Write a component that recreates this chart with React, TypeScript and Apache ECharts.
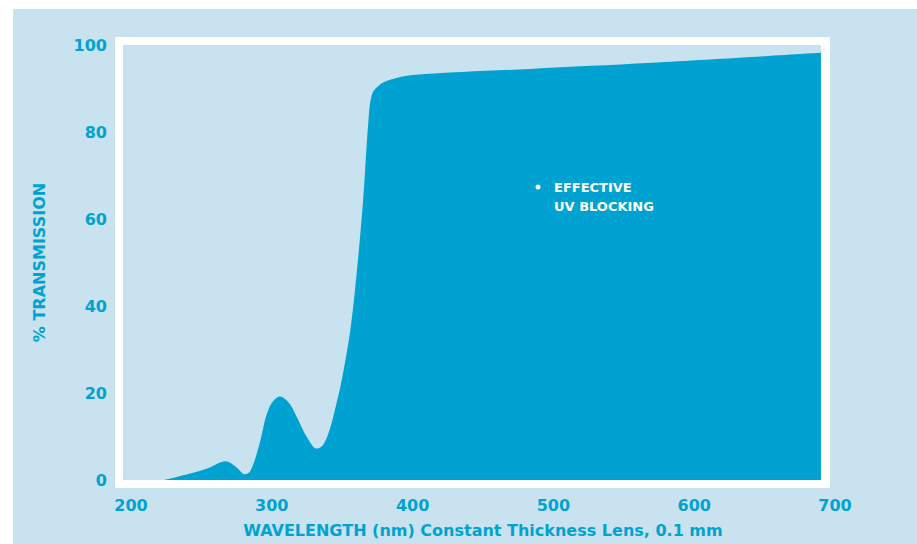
import React, { useEffect, useRef } from "react";
import * as echarts from "echarts";

const wavelengths = [
  224, 240, 256, 267, 275, 281, 285, 291, 298, 305.8, 312, 318, 325, 332,
  336.5, 341, 345.5, 350, 356, 361, 365, 368.5, 371, 376, 384, 400, 483, 570, 690,
];
const transmission = [
  0, 1.3, 2.9, 4.3, 2.9, 1.3, 2.2, 8, 16.5, 19.2, 17.8, 14.3, 9.8, 7.2, 8.1,
  11.5, 17, 23.5, 35, 50, 65, 82, 88.5, 90.7, 92, 93.1, 94.5, 95.9, 98.2,
];
const xTicks = [200, 300, 400, 500, 600, 700];
const yTicks = [0, 20, 40, 60, 80, 100];
const xTitle = "WAVELENGTH (nm) Constant Thickness Lens, 0.1 mm";
const yTitle = "% TRANSMISSION";
const noteLines = ["EFFECTIVE", "UV BLOCKING"];

const BLUE = "#00a2d2";
const LIGHT = "#c8e3ef";
const FONT = "'DejaVu Sans', sans-serif";

export default function App() {
  const ref = useRef<HTMLDivElement>(null);
  useEffect(() => {
    if (!ref.current) return;
    const chart = echarts.init(ref.current, undefined, { renderer: "svg" });
    const data = wavelengths.map((w, i) => [w, transmission[i]]);
    chart.setOption({
      animation: false,
      backgroundColor: "#ffffff",
      grid: { left: 131, right: 82, top: 45, bottom: 64, containLabel: false },
      graphic: [
        { type: "rect", z: -10, shape: { x: 13, y: 9, width: 904, height: 535 }, style: { fill: LIGHT } },
        { type: "rect", z: -9, shape: { x: 115, y: 37, width: 715, height: 451 }, style: { fill: "#ffffff" } },
        { type: "rect", z: -8, shape: { x: 123, y: 45, width: 698, height: 435 }, style: { fill: LIGHT } },
        { type: "circle", z: 100, shape: { cx: 538, cy: 187, r: 2.5 }, style: { fill: "#ffffff" } },
        {
          type: "text", z: 100, x: 554, y: 178,
          style: { text: noteLines.join("\n"), fill: "#ffffff", font: `bold 13px ${FONT}`, lineHeight: 19 },
        },
      ],
      xAxis: {
        type: "value",
        min: xTicks[0],
        max: xTicks[xTicks.length - 1],
        interval: 100,
        axisLine: { show: false },
        axisTick: { show: false },
        splitLine: { show: false },
        axisLabel: { color: BLUE, fontFamily: FONT, fontWeight: "bold", fontSize: 16, margin: 17 },
        name: xTitle,
        nameLocation: "middle",
        nameGap: 42,
        nameTextStyle: { color: BLUE, fontFamily: FONT, fontWeight: "bold", fontSize: 16 },
      },
      yAxis: {
        type: "value",
        min: yTicks[0],
        max: yTicks[yTicks.length - 1],
        interval: 20,
        axisLine: { show: false },
        axisTick: { show: false },
        splitLine: { show: false },
        axisLabel: { color: BLUE, fontFamily: FONT, fontWeight: "bold", fontSize: 16, margin: 24 },
        name: yTitle,
        nameLocation: "middle",
        nameGap: 84,
        nameTextStyle: { color: BLUE, fontFamily: FONT, fontWeight: "bold", fontSize: 16 },
      },
      series: [
        {
          type: "line",
          data,
          smooth: 0.35,
          symbol: "none",
          lineStyle: { width: 0 },
          areaStyle: { color: BLUE, opacity: 1 },
          clip: false,
        },
      ],
    });
    return () => chart.dispose();
  }, []);
  return (
    <div
      ref={ref}
      style={{ position: "absolute", left: 0, top: 0, width: 917, height: 544 }}
    />
  );
}
